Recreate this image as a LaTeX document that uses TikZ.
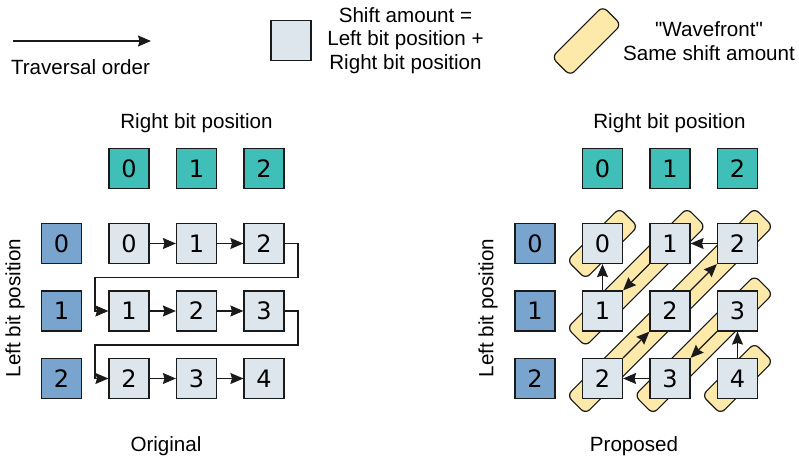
\documentclass[tikz,border=0pt]{standalone}
\usepackage{fontspec}
\setmainfont{Liberation Sans}
\newfontfamily\qfont[Ligatures=TeXOff]{Liberation Sans}
\newfontfamily\digitfont{DejaVu Sans}
\usetikzlibrary{arrows.meta}
\definecolor{linec}{HTML}{1A1A1A}
\definecolor{tealc}{HTML}{40BFB8}
\definecolor{bluec}{HTML}{79A4CE}
\definecolor{boxc}{HTML}{DEE6ED}
\definecolor{wavec}{HTML}{FDE9A9}
\tikzset{
  cell/.style={draw=linec, line width=0.6pt, minimum size=20pt, inner sep=0pt,
    font=\digitfont\fontsize{12}{13}\selectfont},
  hdr/.style={cell, fill=tealc},
  lft/.style={cell, fill=bluec},
  val/.style={cell, fill=boxc},
  wave/.style={draw=linec, line width=0.6pt, fill=wavec, rounded corners=3pt,
    inner sep=0pt, minimum height=13pt, rotate=45},
  arr/.style={-{Stealth[length=6.5pt,width=5.5pt,inset=0.8pt]}, line width=0.55pt, draw=linec},
  lbl/.style={font=\fontsize{10.3}{11.75}\selectfont, align=center, inner sep=0pt},
}
\begin{document}
\begin{tikzpicture}[x=0.5pt,y=-0.5pt]
\useasboundingbox (0,0) rectangle (799,461);

% ---------- legend ----------
\coordinate (la) at (13,41);
\coordinate (lb) at (151,41);
\draw[arr] (la) -- (lb);
\node[lbl] (trav) at (80.5,67) {Traversal order};
\node[val] (legbox) at (291,40.5) {};
\node[lbl] (legtxt) at (405.5,40.5) {Shift amount =\\Left bit position +\\Right bit position};
\node[wave, minimum width=36pt] (legwave) at (586.5,41) {};
\node[lbl] (wavetxt) at (709,41) {{\qfont"Wavefront"}\\Same shift amount};

% ---------- original ----------
\node[lbl] (orh) at (196.5,123) {Right bit position};
\node[lbl, rotate=90] (orv) at (15,308) {Left bit position};
\node[lbl] (orig) at (166,446) {Original};
\node[hdr] (oh0) at (129,168.5) {0};
\node[hdr] (oh1) at (196.5,168.5) {1};
\node[hdr] (oh2) at (264,168.5) {2};
\node[lft] (ol0) at (61.5,243.5) {0};
\node[lft] (ol1) at (61.5,311) {1};
\node[lft] (ol2) at (61.5,378.5) {2};
\node[val] (o00) at (129,243.5) {0};
\node[val] (o01) at (196.5,243.5) {1};
\node[val] (o02) at (264,243.5) {2};
\node[val] (o10) at (129,311) {1};
\node[val] (o11) at (196.5,311) {2};
\node[val] (o12) at (264,311) {3};
\node[val] (o20) at (129,378.5) {2};
\node[val] (o21) at (196.5,378.5) {3};
\node[val] (o22) at (264,378.5) {4};
\coordinate (ra1) at (298,277.5);
\coordinate (lf1) at (95,277.5);
\coordinate (ra2) at (298,345);
\coordinate (lf2) at (95,345);
\draw[arr] (o00) -- (o01);
\draw[arr] (o01) -- (o02);
\draw[arr] (o02.east) -| (ra1) -- (lf1) |- (o10.west);
\draw[arr] (o10) -- (o11);
\draw[arr] (o11) -- (o12);
\draw[arr] (o12.east) -| (ra2) -- (lf2) |- (o20.west);
\draw[arr] (o20) -- (o21);
\draw[arr] (o21) -- (o22);

% ---------- proposed ----------
\node[lbl] (prh) at (669.5,123) {Right bit position};
\node[lbl, rotate=90] (prv) at (488,308) {Left bit position};
\node[lbl] (prop) at (634,446) {Proposed};
\node[wave, minimum width=37pt] (w0) at (602.5,243.5) {};
\node[wave, minimum width=84.75pt] (w1) at (636.25,277.25) {};
\node[wave, minimum width=132.5pt] (w2) at (670,311) {};
\node[wave, minimum width=84.75pt] (w3) at (703.75,344.75) {};
\node[wave, minimum width=37pt] (w4) at (737.5,378.5) {};
\node[hdr] (ph0) at (602.5,168.5) {0};
\node[hdr] (ph1) at (670,168.5) {1};
\node[hdr] (ph2) at (737.5,168.5) {2};
\node[lft] (pl0) at (535,243.5) {0};
\node[lft] (pl1) at (535,311) {1};
\node[lft] (pl2) at (535,378.5) {2};
\node[val] (p00) at (602.5,243.5) {0};
\node[val] (p01) at (670,243.5) {1};
\node[val] (p02) at (737.5,243.5) {2};
\node[val] (p10) at (602.5,311) {1};
\node[val] (p11) at (670,311) {2};
\node[val] (p12) at (737.5,311) {3};
\node[val] (p20) at (602.5,378.5) {2};
\node[val] (p21) at (670,378.5) {3};
\node[val] (p22) at (737.5,378.5) {4};
\draw[arr] (p22.north) -- (p12.south);
\draw[arr] (p12.south west) -- (p21.north east);
\draw[arr] (p21.west) -- (p20.east);
\draw[arr] (p20.north east) -- (p11.south west);
\draw[arr] (p11.north east) -- (p02.south west);
\draw[arr] (p02.west) -- (p01.east);
\draw[arr] (p01.south west) -- (p10.north east);
\draw[arr] (p10.north) -- (p00.south);
\end{tikzpicture}
\end{document}
